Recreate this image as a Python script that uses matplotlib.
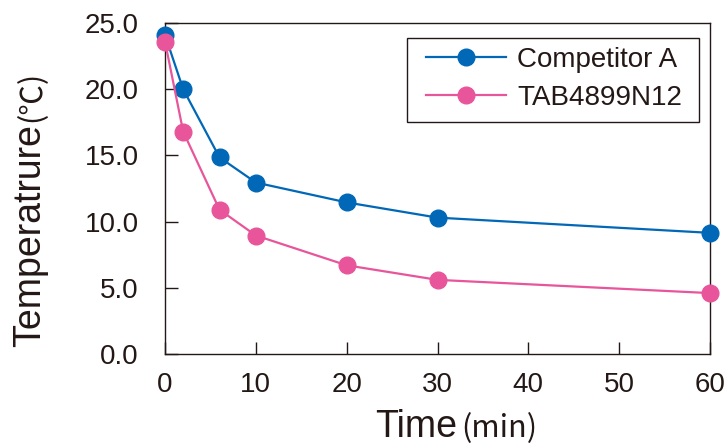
import matplotlib
matplotlib.use("Agg")
import matplotlib.pyplot as plt
from matplotlib.patches import Rectangle

time_min = [0, 2, 6, 10, 20, 30, 60]
competitor_a = [24.1, 20.0, 14.85, 12.95, 11.45, 10.3, 9.15]
tab4899n12 = [23.6, 16.8, 10.9, 8.95, 6.7, 5.6, 4.6]
series_names = ["Competitor A", "TAB4899N12"]
x_ticks = [0, 10, 20, 30, 40, 50, 60]
y_ticks = [0, 5, 10, 15, 20, 25]

W, H = 728, 444
BLUE = "#0068B7"
PINK = "#E8559A"
DARK = "#231815"

plt.rcParams['font.family'] = ['Liberation Sans', 'DejaVu Sans']

fig = plt.figure(figsize=(W / 100, H / 100), dpi=100)
ax = fig.add_axes([165 / W, 1 - 354 / H, (710 - 165) / W, (354 - 23) / H])

ax.plot(time_min, competitor_a, color=BLUE, lw=1.6, marker='o', ms=12,
        label=series_names[0], clip_on=False, zorder=3)
ax.plot(time_min, tab4899n12, color=PINK, lw=1.6, marker='o', ms=12,
        label=series_names[1], clip_on=False, zorder=4)

ax.set_xlim(0, 60)
ax.set_ylim(0, 25)
ax.set_xticks(x_ticks)
ax.set_yticks(y_ticks)
ax.set_yticklabels([f"{v:.1f}" for v in y_ticks])
ax.tick_params(axis='both', direction='in', length=9, width=1, color=DARK,
               labelsize=20, labelcolor=DARK)
ax.tick_params(axis='y', pad=19)
ax.tick_params(axis='x', pad=13)
for s in ax.spines.values():
    s.set_color(DARK)
    s.set_linewidth(1.0)

leg = ax.legend(loc='upper left', bbox_to_anchor=(416 / W, 1 - 37 / H),
                bbox_transform=fig.transFigure, borderaxespad=0,
                fontsize=20, handlelength=2.9, handletextpad=0.4,
                frameon=False, borderpad=0.35, labelspacing=0.45)
for t in leg.get_texts():
    t.set_color(DARK)
leg.set_zorder(7)
ax.add_patch(Rectangle((407 / W, 1 - 122 / H), (699 - 407) / W,
                       (122 - 38) / H, transform=fig.transFigure,
                       fill=True, facecolor='white', edgecolor=DARK,
                       lw=1.0, zorder=6, clip_on=False))

# y label
t1 = fig.text(40 / W, 1 - 347 / H, "Temperatrure", rotation=90,
              rotation_mode='anchor', ha='left', va='baseline',
              fontsize=27, color=DARK)
# x label
t2 = fig.text(375 / W, 1 - 437 / H, "Time", ha='left', va='baseline',
              fontsize=27, color=DARK)
fig.canvas.draw()
r = fig.canvas.get_renderer()
b1 = t1.get_window_extent(r)
fig.text(40 / W, (b1.y1 + 2) / H, "(℃)", rotation=90, rotation_mode='anchor',
         ha='left', va='baseline', fontsize=22, color=DARK,
         family=['Noto Sans CJK JP', 'DejaVu Sans'])
b2 = t2.get_window_extent(r)
fig.text((b2.x1 + 4) / W, 1 - 437 / H, "(min)", ha='left', va='baseline',
         fontsize=22, color=DARK, family=['Noto Sans CJK JP', 'DejaVu Sans'])

fig.savefig("out.png", dpi=100)
